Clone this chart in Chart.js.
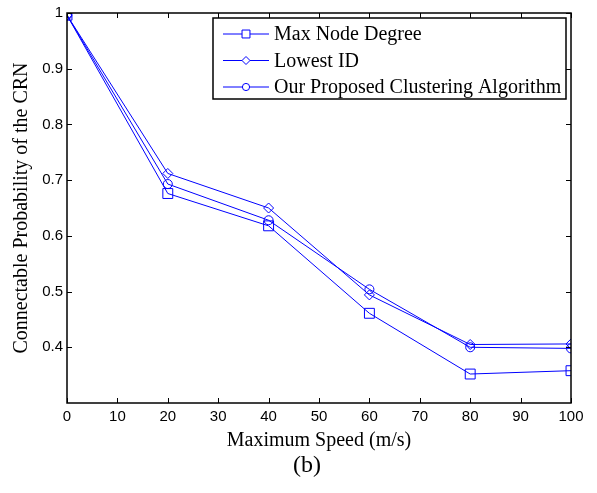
<!DOCTYPE html>
<html lang="en">
  <head>
    <meta charset="UTF-8">
    <title>Connectable Probability vs Maximum Speed</title>
    <script src="https://cdn.jsdelivr.net/npm/chart.js"></script>
    <style>
      html, body {
        margin: 0;
        padding: 0;
        background: #fff
      }

      .wrap {
        position: relative;
        width: 597px;
        height: 493px
      }
    </style>
  </head>
  <body>
    <div class="wrap">
      <canvas id="crn-chart" width="597" height="493"></canvas>
    </div>
    <script>
      const speeds = [0, 20, 40, 60, 80, 100];
      const maxNodeDegree = [0.996, 0.676, 0.618, 0.461, 0.352, 0.358];
      const lowestId = [0.996, 0.712, 0.650, 0.494, 0.405, 0.406];
      const proposed = [0.996, 0.693, 0.628, 0.504, 0.400, 0.398];
      const seriesNames = ['Max Node Degree', 'Lowest ID', 'Our Proposed Clustering Algorithm'];
      const xTicks = [0, 10, 20, 30, 40, 50, 60, 70, 80, 90, 100];
      const yTicks = [0.4, 0.5, 0.6, 0.7, 0.8, 0.9, 1];

      const blue = '#0000ff';
      const serif = '"Liberation Serif", "Times New Roman", serif';
      const sans = '"Liberation Sans", Arial, sans-serif';

      function toPoints(values) {
        return values.map((v, i) => ({ x: speeds[i], y: v }));
      }

      function makeSet(label, values, style, radius) {
        return {
          label: label,
          data: toPoints(values),
          borderColor: blue,
          backgroundColor: 'rgba(0,0,0,0)',
          borderWidth: 1,
          pointStyle: style,
          pointRadius: radius,
          pointBorderColor: blue,
          pointBorderWidth: 1,
          pointBackgroundColor: 'rgba(0,0,0,0)',
          tension: 0,
          fill: false
        };
      }

      // frame with inward ticks on all four sides, MATLAB style
      const frameTicks = {
        id: 'frameTicks',
        afterDatasetsDraw(chart) {
          const { ctx, chartArea: a, scales } = chart;
          ctx.save();
          ctx.strokeStyle = '#000';
          ctx.lineWidth = 1;
          ctx.beginPath();
          xTicks.forEach(t => {
            const px = Math.round(scales.x.getPixelForValue(t)) + 0.5;
            ctx.moveTo(px, a.bottom); ctx.lineTo(px, a.bottom - 5);
            ctx.moveTo(px, a.top); ctx.lineTo(px, a.top + 5);
          });
          yTicks.forEach(t => {
            const py = Math.round(scales.y.getPixelForValue(t)) + 0.5;
            ctx.moveTo(a.left, py); ctx.lineTo(a.left + 5, py);
            ctx.moveTo(a.right, py); ctx.lineTo(a.right - 5, py);
          });
          ctx.stroke();
          ctx.lineWidth = 1.5;
          ctx.strokeRect(a.left, a.top, a.right - a.left, a.bottom - a.top);
          ctx.restore();
        }
      };

      // boxed legend inside the plot, upper right, plus the panel label
      const boxLegend = {
        id: 'boxLegend',
        afterDraw(chart) {
          const { ctx, chartArea: a } = chart;
          const left = 213, top = 18, w = a.right - 5 - left, h = 81;
          ctx.save();
          ctx.fillStyle = '#fff';
          ctx.fillRect(left, top, w, h);
          ctx.strokeStyle = '#000';
          ctx.lineWidth = 1.5;
          ctx.strokeRect(left, top, w, h);
          ctx.textBaseline = 'middle';
          chart.data.datasets.forEach((ds, i) => {
            const y = top + 16 + i * 26.5;
            ctx.strokeStyle = ds.borderColor;
            ctx.lineWidth = 1;
            ctx.beginPath();
            ctx.moveTo(left + 10, y);
            ctx.lineTo(left + 56, y);
            ctx.stroke();
            ctx.fillStyle = '#fff';
            Chart.helpers.drawPoint(ctx, {
              pointStyle: ds.pointStyle,
              radius: ds.pointRadius * 0.8,
              borderWidth: 1,
              rotation: 0
            }, left + 33, y);
            ctx.fillStyle = '#000';
            ctx.font = '20px ' + serif;
            ctx.fillText(ds.label, left + 61, y + 1);
          });
          ctx.font = '24px ' + serif;
          ctx.textAlign = 'center';
          ctx.fillStyle = '#000';
          ctx.fillText('(b)', 307, 466);
          ctx.restore();
        }
      };

      const ctx = document.getElementById('crn-chart').getContext('2d');
      new Chart(ctx, {
        type: 'line',
        data: {
          datasets: [
            makeSet(seriesNames[0], maxNodeDegree, 'rect', 7),
            makeSet(seriesNames[1], lowestId, 'rectRot', 5),
            makeSet(seriesNames[2], proposed, 'circle', 4.5)
          ]
        },
        options: {
          responsive: false,
          animation: false,
          layout: { padding: { top: 10, right: 26, left: 0, bottom: 40 } },
          plugins: {
            legend: { display: false },
            tooltip: { enabled: false }
          },
          scales: {
            x: {
              type: 'linear',
              min: 0,
              max: 100,
              afterFit(scale) { scale.height = 50; },
              afterBuildTicks(scale) { scale.ticks = xTicks.map(v => ({ value: v })); },
              grid: { display: false, drawTicks: false },
              border: { display: false },
              ticks: {
                color: '#000',
                padding: 5,
                font: { family: sans, size: 15 }
              },
              title: {
                display: true,
                text: 'Maximum Speed (m/s)',
                color: '#000',
                font: { family: serif, size: 20 },
                padding: { top: 0, bottom: 0 }
              }
            },
            y: {
              type: 'linear',
              min: 0.3,
              max: 1,
              afterFit(scale) { scale.width = 67; },
              afterBuildTicks(scale) { scale.ticks = yTicks.map(v => ({ value: v })); },
              grid: { display: false, drawTicks: false },
              border: { display: false },
              ticks: {
                color: '#000',
                padding: 4,
                font: { family: sans, size: 15 },
                callback: v => (v === 1 ? '1' : v.toFixed(1))
              },
              title: {
                display: true,
                text: 'Connectable Probability of the CRN',
                color: '#000',
                font: { family: serif, size: 20 },
                padding: { top: 10, bottom: 0 }
              }
            }
          }
        },
        plugins: [frameTicks, boxLegend]
      });
    </script>
  </body>
</html>
